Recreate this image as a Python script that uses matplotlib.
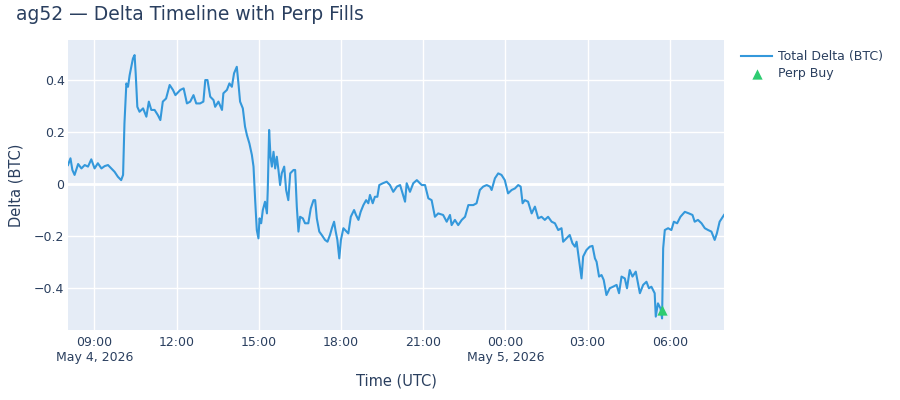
import matplotlib
matplotlib.use("Agg")
import matplotlib.pyplot as plt
import matplotlib.dates as mdates
import numpy as np
import pandas as pd

# Hours since 2026-05-04 00:00 UTC
delta_hours = [
    8.04, 8.13, 8.20, 8.28, 8.41, 8.53, 8.65, 8.77, 8.89, 9.01, 9.13, 9.26, 9.38, 9.50, 9.62,
    9.74, 9.86, 9.98, 10.05, 10.10, 10.17, 10.23, 10.29, 10.35, 10.41, 10.47, 10.51, 10.57,
    10.65, 10.78, 10.90, 10.99, 11.08, 11.20, 11.32, 11.41, 11.50, 11.62, 11.75, 11.87, 11.96,
    12.14, 12.26, 12.38, 12.50, 12.62, 12.72, 12.86, 12.98, 13.05, 13.13, 13.23, 13.35, 13.41,
    13.53, 13.66, 13.71, 13.84, 13.93, 14.02, 14.10, 14.20, 14.26, 14.32, 14.42, 14.50, 14.57,
    14.66, 14.75, 14.81, 14.87, 14.93, 14.99, 15.03, 15.09, 15.15, 15.23, 15.30, 15.33, 15.38,
    15.43, 15.48, 15.54, 15.60, 15.66, 15.72, 15.78, 15.84, 15.93, 16.00, 16.08,
    16.15, 16.27, 16.33, 16.39, 16.45, 16.51, 16.61, 16.69, 16.81, 16.90, 17.00, 17.06, 17.12,
    17.21, 17.30, 17.42, 17.51, 17.60, 17.67, 17.75, 17.81, 17.87, 17.94, 18.00, 18.09, 18.21,
    18.27, 18.36, 18.48, 18.55, 18.64, 18.72, 18.82, 18.92, 19.00, 19.06, 19.16, 19.24, 19.33,
    19.40, 19.53, 19.67,
    19.79, 19.91, 20.04, 20.16, 20.34, 20.40, 20.52, 20.64, 20.77, 20.95, 21.07, 21.19, 21.31,
    21.43, 21.55, 21.73, 21.86, 21.98, 22.04, 22.16, 22.28, 22.41, 22.53, 22.65, 22.83, 22.95,
    23.07, 23.19, 23.32, 23.44, 23.50, 23.62, 23.74, 23.86, 23.98, 24.10, 24.23, 24.35, 24.47,
    24.56, 24.63, 24.71, 24.83, 24.96, 25.08, 25.20, 25.32, 25.44, 25.56, 25.69, 25.81, 25.93,
    26.05, 26.11, 26.23, 26.35, 26.45, 26.54, 26.60, 26.69, 26.78, 26.84, 26.96, 27.08, 27.18,
    27.27, 27.33, 27.42, 27.51, 27.59, 27.69, 27.81, 27.93, 28.06, 28.15, 28.24, 28.36, 28.44,
    28.54, 28.64, 28.76, 28.84, 28.91, 29.03, 29.15, 29.24, 29.33, 29.45, 29.49, 29.57, 29.66,
    29.72, 29.76, 29.82, 29.94, 30.06, 30.15, 30.27, 30.39, 30.55, 30.70, 30.83, 30.91, 31.03,
    31.16, 31.28, 31.40, 31.52, 31.64, 31.72, 31.82, 31.98,
]
delta_btc = [
    0.073, 0.099, 0.054, 0.035, 0.077, 0.060, 0.073, 0.067, 0.095, 0.060, 0.080, 0.060, 0.069,
    0.073, 0.060, 0.047, 0.028, 0.015, 0.035, 0.233, 0.387, 0.374, 0.419, 0.451, 0.483, 0.496,
    0.426, 0.297, 0.278, 0.291, 0.259, 0.317, 0.285, 0.285, 0.265, 0.246, 0.317, 0.329, 0.381,
    0.362, 0.342,
    0.362, 0.368, 0.310, 0.317, 0.342, 0.310, 0.310, 0.317, 0.400, 0.400, 0.336, 0.323, 0.297,
    0.317, 0.285, 0.349, 0.362, 0.387, 0.374, 0.426, 0.451, 0.387, 0.317, 0.291, 0.221, 0.188,
    0.156, 0.112, 0.067, -0.062, -0.177, -0.209, -0.132, -0.151, -0.100, -0.068, -0.113, -0.023,
    0.208, 0.105, 0.067, 0.124, 0.060, 0.105, 0.054, -0.004, 0.041, 0.067, -0.023, -0.062,
    0.041, 0.054, 0.054, -0.087, -0.183, -0.126, -0.132, -0.151, -0.151, -0.094, -0.062, -0.062,
    -0.132, -0.183, -0.196, -0.215, -0.222, -0.196, -0.170, -0.145, -0.183, -0.215, -0.286,
    -0.215, -0.170, -0.183, -0.190, -0.126, -0.100, -0.119, -0.138, -0.107, -0.081, -0.062,
    -0.074, -0.042, -0.074, -0.049, -0.049, -0.004, 0.003, 0.009,
    -0.004, -0.030, -0.010, -0.004, -0.068, 0.003, -0.030, 0.003, 0.015, -0.004, -0.004, -0.055,
    -0.062, -0.126, -0.113, -0.119, -0.145, -0.119, -0.158, -0.138, -0.158, -0.138, -0.126,
    -0.081, -0.081, -0.074, -0.023, -0.010, -0.004, -0.010, -0.023, 0.022, 0.041, 0.035, 0.015,
    -0.036, -0.023, -0.017, -0.004, -0.010, -0.074, -0.062, -0.068, -0.113, -0.087, -0.132,
    -0.126, -0.138, -0.126, -0.145, -0.151, -0.177, -0.170, -0.222, -0.209, -0.196, -0.228,
    -0.241, -0.222, -0.292, -0.363, -0.279, -0.254, -0.241, -0.238, -0.286, -0.299, -0.356,
    -0.350, -0.369, -0.427, -0.401, -0.395, -0.388, -0.420, -0.356, -0.363, -0.401, -0.331,
    -0.356, -0.337, -0.382, -0.420, -0.388, -0.376, -0.401, -0.395, -0.420, -0.510, -0.459,
    -0.478, -0.517, -0.247, -0.177, -0.170, -0.177, -0.145, -0.151, -0.126, -0.107, -0.113,
    -0.119, -0.145, -0.138, -0.151, -0.170, -0.177, -0.183, -0.215, -0.190, -0.145, -0.119,
]
perp_buy_hours = [29.71]
perp_buy_delta = [-0.485]

y_ticks = [-0.4, -0.2, 0.0, 0.2, 0.4]
y_tick_labels = ["\u22120.4", "\u22120.2", "0", "0.2", "0.4"]

base = pd.Timestamp("2026-05-04 00:00")
t = base + pd.to_timedelta(np.array(delta_hours), unit="h")
tb = base + pd.to_timedelta(np.array(perp_buy_hours), unit="h")

plt.rcParams['font.family'] = ['DejaVu Sans']
TXT = '#2a3f5f'

fig = plt.figure(figsize=(9, 4), dpi=100)
ax = fig.add_axes([68/900, 70/400, (724-68)/900, 290/400])
ax.set_facecolor('#E5ECF6')
for s in ax.spines.values():
    s.set_visible(False)

ax.plot(t, delta_btc, color='#3498db', lw=1.5, label='Total Delta (BTC)', zorder=3)
ax.scatter(tb, perp_buy_delta, marker='^', s=55, color='#2ecc71', label='Perp Buy', zorder=4,
           linewidths=0)

ax.set_xlim(t[0], t[-1])
ax.set_ylim(-0.5615, 0.554)
ax.set_yticks(y_ticks)
ax.set_yticklabels(y_tick_labels)

ax.xaxis.set_major_locator(mdates.HourLocator(byhour=[0, 3, 6, 9, 12, 15, 18, 21]))
def fmt(x, pos=None):
    d = mdates.num2date(x)
    s = d.strftime('%H:%M')
    if d.hour == 0 or pos == 0:
        s += '\n' + f"{d.strftime('%b')} {d.day}, {d.year}"
    return s
ax.xaxis.set_major_formatter(plt.FuncFormatter(fmt))

ax.grid(True, color='white', lw=1)
ax.axhline(0, color='white', lw=2, zorder=1)
ax.set_axisbelow(True)
ax.tick_params(length=0, labelsize=9, colors=TXT)
ax.tick_params(axis='x', pad=4)
ax.tick_params(axis='y', pad=2.5)
for lab in ax.get_xticklabels():
    lab.set_linespacing(1.2)

ax.set_xlabel('Time (UTC)', fontsize=10.5, color=TXT, labelpad=7)
ax.set_ylabel('Delta (BTC)', fontsize=10.5, color=TXT, labelpad=8)

fig.text(16/900, 1 - 14/400, 'ag52 \u2014 Delta Timeline with Perp Fills', fontsize=13.5,
         color=TXT, va='center', ha='left')

leg = ax.legend(loc='upper left', bbox_to_anchor=(741/900, 1 - 50/400),
                bbox_transform=fig.transFigure, frameon=False, fontsize=9,
                handlelength=2.5, handletextpad=0.5, labelspacing=0.35, borderpad=0,
                borderaxespad=0)
for txt in leg.get_texts():
    txt.set_color(TXT)

fig.savefig('out.png', dpi=100)
